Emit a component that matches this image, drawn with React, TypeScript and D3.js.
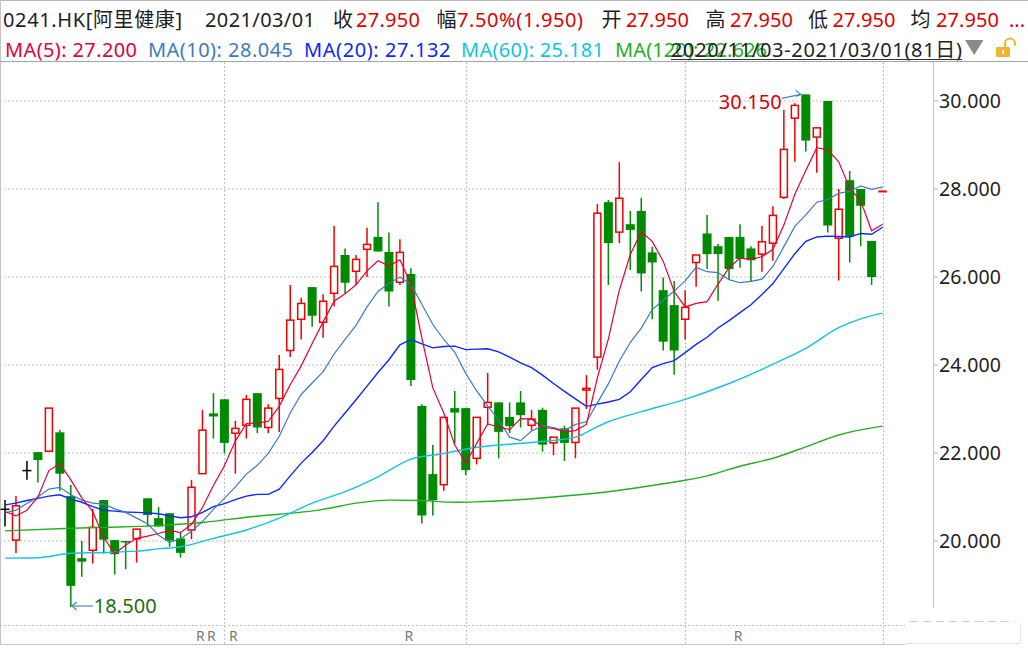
import * as d3 from "d3";

const FONT = "'Noto Sans', 'Noto Sans CJK SC', sans-serif";

// OHLC per trading day, 2020/11/03 .. 2021/03/01 (81 days)
const opens = [
  20.72, 20.02, 21.6, 22.02, 22.04, 22.47, 21.02, 19.61, 19.79, 20.93,
  20.02, 20.0, 20.05, 20.97, 20.52, 20.63, 20.06, 20.25, 21.53, 22.9,
  23.22, 22.45, 22.63, 23.36, 22.58, 23.24, 24.33, 25.04, 25.77, 24.97,
  25.63, 26.5, 26.13, 26.63, 26.91, 26.57, 25.88, 26.07, 23.07, 21.52,
  21.28, 23.02, 23.02, 21.88, 23.04, 23.15, 22.82, 23.15, 22.63, 22.98,
  22.23, 22.56, 22.24, 23.43, 24.18, 27.7, 27.02, 27.2, 27.5, 26.56,
  25.7, 25.36, 25.04, 26.33, 26.99, 26.7, 26.91, 26.91, 26.65, 26.52,
  26.77, 27.81, 29.61, 30.15, 29.18, 30.0, 26.88, 28.2, 28.0, 26.82,
  27.94,
];
const highs = [
  20.93, 21.02, 21.82, 22.02, 23.02, 22.52, 21.27, 20.0, 20.73, 20.93,
  20.02, 20.0, 20.27, 20.97, 20.77, 20.63, 20.21, 21.39, 22.98, 23.36,
  23.22, 22.73, 23.32, 23.36, 23.11, 24.23, 25.82, 25.53, 25.77, 25.61,
  27.16, 26.65, 26.5, 27.12, 27.7, 27.01, 26.86, 26.2, 23.11, 22.18,
  22.81, 23.41, 23.02, 22.81, 23.82, 23.15, 23.15, 23.41, 22.98, 23.03,
  22.36, 22.62, 23.02, 23.77, 27.66, 27.75, 28.61, 27.5, 27.8, 26.69,
  25.99, 25.91, 25.7, 26.5, 27.41, 26.75, 26.91, 27.2, 26.7, 27.16,
  27.61, 29.8, 29.95, 30.15, 29.39, 30.0, 28.0, 28.41, 28.0, 26.82,
  27.95,
];
const lows = [
  20.33, 19.73, 21.39, 21.33, 22.04, 21.14, 18.5, 19.19, 19.49, 19.71,
  19.24, 19.36, 19.51, 20.33, 20.33, 19.87, 19.62, 20.04, 21.53, 22.33,
  21.99, 21.53, 22.33, 22.45, 22.45, 22.48, 24.18, 24.58, 24.87, 24.62,
  25.33, 25.63, 25.82, 26.0, 26.58, 25.33, 25.82, 23.52, 20.4, 20.58,
  21.14, 22.22, 21.5, 21.74, 22.64, 21.88, 22.45, 22.58, 22.51, 22.03,
  21.95, 21.82, 21.88, 23.0, 23.89, 25.82, 26.77, 26.16, 25.67, 25.04,
  24.33, 23.78, 24.58, 25.78, 26.18, 25.46, 25.95, 26.21, 25.89, 26.12,
  26.37, 27.77, 28.62, 28.85, 28.37, 27.01, 25.92, 26.33, 26.7, 25.82,
  27.94,
];
const closes = [
  20.72, 20.8, 21.6, 21.84, 23.02, 21.53, 18.98, 19.53, 20.31, 20.03,
  19.7, 19.98, 20.27, 20.59, 20.33, 20.01, 19.73, 21.22, 22.52, 22.83,
  22.23, 22.56, 23.22, 22.58, 23.02, 23.9, 25.02, 25.4, 25.12, 25.45,
  26.24, 25.87, 26.4, 26.74, 26.58, 25.67, 26.56, 23.66, 20.58, 20.93,
  22.81, 22.92, 21.61, 22.81, 23.15, 22.48, 22.61, 22.86, 22.77, 22.19,
  22.36, 22.23, 23.02, 23.47, 27.45, 26.77, 27.79, 27.07, 26.08, 26.33,
  24.53, 24.33, 25.31, 26.5, 26.52, 26.52, 26.18, 26.41, 26.38, 26.8,
  27.4, 28.9, 29.9, 29.1, 29.39, 27.17, 27.54, 26.92, 27.62, 26.0,
  27.95,
];

// moving averages, one value per day
const ma5 = [
  20.67, 20.57, 20.7, 21.0, 21.6, 21.76, 21.39, 20.98, 20.67, 20.08,
  19.71, 19.91, 20.06, 20.11, 20.17, 20.24, 20.19, 20.38, 20.76, 21.26,
  21.71, 22.27, 22.67, 22.68, 22.72, 23.06, 23.55, 23.98, 24.49, 24.98,
  25.45, 25.62, 25.82, 26.14, 26.37, 26.25, 26.39, 25.84, 24.61, 23.48,
  22.91, 22.18, 21.77, 22.22, 22.66, 22.59, 22.53, 22.78, 22.77, 22.58,
  22.56, 22.48, 22.51, 22.65, 23.71, 24.59, 25.7, 26.51, 27.03, 26.81,
  26.36, 25.67, 25.32, 25.4, 25.44, 25.84, 26.21, 26.43, 26.4, 26.46,
  26.63, 27.18, 27.88, 28.42, 28.94, 28.89, 28.62, 28.02, 27.73, 27.05,
  27.2,
];
const ma10 = [
  20.64, 20.7, 20.85, 21.0, 21.18, 21.22, 21.05, 20.93, 20.86, 20.84,
  20.73, 20.65, 20.52, 20.39, 20.13, 19.97, 20.05, 20.22, 20.44, 20.72,
  20.97, 21.23, 21.52, 21.72, 21.99, 22.38, 22.91, 23.33, 23.59, 23.85,
  24.25, 24.58, 24.9, 25.32, 25.67, 25.85, 26.0, 25.83, 25.38, 24.92,
  24.58, 24.29, 23.81, 23.41, 23.07, 22.75, 22.36, 22.28, 22.5, 22.62,
  22.58, 22.51, 22.65, 22.71, 23.14, 23.57, 24.09, 24.51, 24.84, 25.26,
  25.47, 25.68, 25.91, 26.22, 26.12, 26.1, 25.94, 25.87, 25.9, 25.95,
  26.24, 26.69, 27.15, 27.41, 27.7, 27.76, 27.9, 27.95, 28.07, 27.99,
  28.05,
];
const ma20 = [
  20.82, 20.86, 20.92, 20.97, 21.02, 21.05, 20.95, 20.88, 20.78, 20.7,
  20.68, 20.66, 20.65, 20.64, 20.62, 20.57, 20.53, 20.55, 20.65, 20.78,
  20.85, 20.94, 21.02, 21.06, 21.06, 21.18, 21.48, 21.77, 22.01, 22.28,
  22.61, 22.91, 23.21, 23.52, 23.83, 24.12, 24.46, 24.58, 24.48, 24.39,
  24.42, 24.43, 24.35, 24.36, 24.37, 24.3, 24.18, 24.05, 23.94, 23.77,
  23.58, 23.4, 23.23, 23.06, 23.11, 23.16, 23.22, 23.39, 23.67, 23.94,
  24.03, 24.1, 24.28, 24.47, 24.63, 24.84, 25.01, 25.19, 25.37, 25.6,
  25.85, 26.19, 26.53, 26.81, 26.91, 26.93, 26.92, 26.91, 26.99, 26.97,
  27.13,
];
// slow averages, read at day index
const ma60 = [
  [0, 19.61], [3, 19.62], [6, 19.72], [9, 19.74], [12, 19.77], [14, 19.82],
  [16, 19.87], [19, 20.06], [22, 20.25], [25, 20.52], [28, 20.86], [31, 21.12],
  [34, 21.46], [37, 21.86], [40, 21.99], [43, 22.13], [46, 22.2], [49, 22.26],
  [52, 22.36], [54, 22.6], [55, 22.71], [58, 22.94], [62, 23.22], [66, 23.58],
  [69, 23.9], [70, 24.02], [73, 24.38], [76, 24.85], [78, 25.05], [80, 25.18],
];
const ma120 = [
  [0, 20.23], [6, 20.29], [9, 20.31], [14, 20.35], [18, 20.42], [22, 20.54],
  [29, 20.72], [32, 20.86], [35, 20.93], [38, 20.92], [41, 20.88], [43, 20.89],
  [50, 21.0], [55, 21.12], [60, 21.3], [64, 21.48], [67, 21.7], [70, 21.88],
  [73, 22.14], [76, 22.41], [80, 22.61],
];

const yTicks = [20, 22, 24, 26, 28, 30];
const monthStarts = [20, 42, 62, 80];
const rightsDays = [18, 19, 21, 37, 67];
const highMark = { index: 73, value: 30.15, label: "30.150" };
const lowMark = { index: 6, value: 18.5, label: "18.500" };

const UP = "#f00000";
const DOWN = "#008a00";
const C_MA5 = "#e4003a";
const C_MA10 = "#3b7cbd";
const C_MA20 = "#0a28ff";
const C_MA60 = "#12c4e2";
const C_MA120 = "#22b022";

export default function App() {
  const x = d3.scaleLinear().domain([0, 80]).range([5, 882.6]);
  const y = d3.scaleLinear().domain([20, 30]).range([541, 101]);

  const dailyLine = d3
    .line<number>()
    .x((_, i) => x(i))
    .y((d) => y(d));
  const sampledLine = d3
    .line<number[]>()
    .x((d) => x(d[0]))
    .y((d) => y(d[1]))
    .curve(d3.curveMonotoneX);

  const hx = x(highMark.index);
  const hy = y(highMark.value);
  const lx = x(lowMark.index);
  const ly = y(lowMark.value);

  return (
    <svg
      width={1028}
      height={649}
      style={{ position: "absolute", left: 0, top: 0, background: "#fff" }}
      fontFamily={FONT}
    >
      {/* frame */}
      <line x1={0} x2={1028} y1={0.5} y2={0.5} stroke="#b8b8b8" />
      <line x1={0.5} x2={0.5} y1={0} y2={645} stroke="#c4c4c4" />
      <line x1={0} x2={1028} y1={61.5} y2={61.5} stroke="#9ea6ae" />

      {/* grid */}
      {yTicks.map((t) => (
        <g key={t}>
          <line
            x1={0}
            x2={883}
            y1={y(t)}
            y2={y(t)}
            stroke="#c0c0c0"
            strokeDasharray="2 2"
          />
          <line x1={933} x2={938} y1={y(t)} y2={y(t)} stroke="#b0b0b0" />
          <text x={939} y={y(t) + 7.3} fontSize={19.5} fill="#222" textLength={62}>
            {t.toFixed(3)}
          </text>
        </g>
      ))}
      {monthStarts.map((m) => (
        <line
          key={m}
          x1={Math.round(x(m)) + 0.5}
          x2={Math.round(x(m)) + 0.5}
          y1={62}
          y2={645}
          stroke="#c0c0c0"
          strokeDasharray="2 2"
        />
      ))}
      <line x1={933.5} x2={933.5} y1={62} y2={608} stroke="#c4c4c4" />
      <line x1={0} x2={905} y1={625.5} y2={625.5} stroke="#c0c0c0" strokeDasharray="2 2" />
      <line x1={0} x2={905} y1={644.5} y2={644.5} stroke="#c4c4c4" />
      <line x1={910} x2={1015} y1={621.5} y2={621.5} stroke="#cfcfcf" strokeDasharray="8 5" />
      <line x1={905} x2={1020} y1={643.5} y2={643.5} stroke="#e2e2e2" />
      <line x1={1020.5} x2={1020.5} y1={623} y2={643} stroke="#e6e6e6" />

      {/* candles */}
      {closes.map((c, i) => {
        const o = opens[i];
        const cx = x(i);
        if (c > o) {
          return (
            <g key={i} stroke={UP} strokeWidth={1.5}>
              <line x1={cx} x2={cx} y1={y(highs[i])} y2={y(c)} />
              <line x1={cx} x2={cx} y1={y(o)} y2={y(lows[i])} />
              <rect
                x={cx - 3.5}
                y={y(c)}
                width={7}
                height={Math.max(y(o) - y(c), 0.5)}
                fill="#fff"
              />
            </g>
          );
        }
        if (c < o) {
          return (
            <g key={i}>
              <line
                x1={cx}
                x2={cx}
                y1={y(highs[i])}
                y2={y(lows[i])}
                stroke={DOWN}
                strokeWidth={1.5}
              />
              <rect
                x={cx - 4.5}
                y={y(o)}
                width={9}
                height={Math.max(y(c) - y(o), 1.5)}
                fill={DOWN}
              />
            </g>
          );
        }
        return (
          <g key={i} stroke="#000" strokeWidth={1.5}>
            <line x1={cx} x2={cx} y1={y(highs[i])} y2={y(lows[i])} />
            <line x1={cx - 4.5} x2={cx + 4.5} y1={y(c)} y2={y(c)} />
          </g>
        );
      })}

      {/* moving averages */}
      <path d={sampledLine(ma120) ?? ""} fill="none" stroke={C_MA120} strokeWidth={1.4} />
      <path d={sampledLine(ma60) ?? ""} fill="none" stroke={C_MA60} strokeWidth={1.4} />
      <path d={dailyLine(ma20) ?? ""} fill="none" stroke={C_MA20} strokeWidth={1.4} />
      <path d={dailyLine(ma10) ?? ""} fill="none" stroke={C_MA10} strokeWidth={1.2} />
      <path d={dailyLine(ma5) ?? ""} fill="none" stroke={C_MA5} strokeWidth={1.2} />

      {/* high / low marks */}
      <g stroke="#4a86b8" strokeWidth={1.2} fill="none">
        <line x1={hx - 24} y1={hy + 4} x2={hx - 5} y2={hy} />
        <polyline points={`${hx - 10},${hy - 4} ${hx - 5},${hy} ${hx - 10},${hy + 2}`} />
        <line x1={lx + 1} y1={ly - 1} x2={lx + 22} y2={ly - 1} />
        <polyline points={`${lx + 6},${ly - 5} ${lx + 1},${ly - 1} ${lx + 6},${ly + 3}`} />
      </g>
      <text x={hx - 87} y={hy + 15} fontSize={20} fill="#d40000" textLength={63}>
        {highMark.label}
      </text>
      <text x={lx + 23} y={ly + 6} fontSize={20} fill="#1f6e10" textLength={63}>
        {lowMark.label}
      </text>

      {/* rights markers */}
      {rightsDays.map((d) => (
        <text
          key={d}
          x={x(d) - 2}
          y={640.5}
          fontSize={14}
          fill="#7a7a7a"
          textAnchor="middle"
        >
          R
        </text>
      ))}

      {/* header row 1 */}
      <g fontSize={20} fill="#1e1e1e">
        <text x={3} y={26.5} textLength={179}>0241.HK[阿里健康]</text>
        <text x={205} y={26.5} textLength={110}>2021/03/01</text>
        <text x={333} y={26.5}>收</text>
        <text x={356} y={26.5} fill="#e00000" textLength={64}>27.950</text>
        <text x={436.5} y={26.5}>幅</text>
        <text x={457} y={26.5} fill="#e00000" textLength={126}>7.50%(1.950)</text>
        <text x={601.5} y={26.5}>开</text>
        <text x={626} y={26.5} fill="#e00000" textLength={63}>27.950</text>
        <text x={705.5} y={26.5}>高</text>
        <text x={730} y={26.5} fill="#e00000" textLength={63}>27.950</text>
        <text x={808} y={26.5}>低</text>
        <text x={832.5} y={26.5} fill="#e00000" textLength={63}>27.950</text>
        <text x={910.5} y={26.5}>均</text>
        <text x={936} y={26.5} fill="#e00000" textLength={63}>27.950</text>
        <text x={1009} y={26.5} fill="#e00000">...</text>
      </g>

      {/* header row 2 */}
      <g fontSize={20}>
        <text x={5} y={57} fill={C_MA5} textLength={132}>MA(5): 27.200</text>
        <text x={148} y={57} fill={C_MA10} textLength={145}>MA(10): 28.045</text>
        <text x={304} y={57} fill={C_MA20} textLength={146.5}>MA(20): 27.132</text>
        <text x={461} y={57} fill={C_MA60} textLength={143}>MA(60): 25.181</text>
        <text x={615} y={57} fill={C_MA120} textLength={152}>MA(120): 22.626</text>
        <text x={671} y={57} fill="#222" textLength={291}>2020/11/03-2021/03/01(81日)</text>
        <line x1={671} x2={962} y1={59.5} y2={59.5} stroke="#333" />
      </g>

      {/* controls */}
      <polygon points="965,40 983.5,40 974.2,55" fill="#8a8a8a" />
      <rect x={996} y={47} width={14} height={10} rx={1} fill="#f2b233" />
      <rect x={1002} y={50} width={2} height={4} fill="#fff" />
      <path d="M1005,47 V43.5 A5,5 0 0 1 1015,43.5 V45.5" fill="none" stroke="#f2b233" strokeWidth={2} />
    </svg>
  );
}
